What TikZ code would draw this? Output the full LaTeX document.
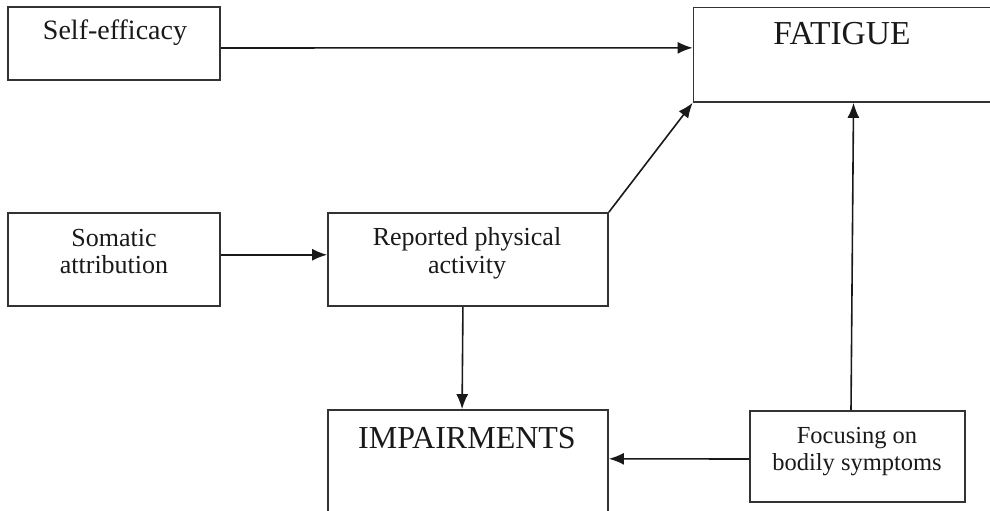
\documentclass[tikz,border=0pt]{standalone}
\usepackage{fontspec}
\setmainfont{Liberation Serif}
\usetikzlibrary{arrows.meta,calc}
\begin{document}
\begin{tikzpicture}[x=1pt,y=-1pt,
  box/.style={draw=black!80,line width=1.7pt,inner sep=0pt},
  lbl/.style={inner sep=0pt,align=center,anchor=base,text=black!90},
  arr/.style={line width=1.6pt,draw=black!90,-{Latex[length=15pt,width=12pt]}}]
\useasboundingbox (0,0) rectangle (990,511);
\clip (0,0) rectangle (990,511);
% boxes
\node[box,minimum width=212pt,minimum height=73pt] (self) at (114,43.5) {};
\node[box,minimum width=330pt,minimum height=94.5pt] (fat) at (858.5,54.75) {};
\node[box,minimum width=212pt,minimum height=93pt] (som) at (114,259.5) {};
\node[box,minimum width=280pt,minimum height=93pt] (rep) at (468,259.5) {};
\node[box,minimum width=280pt,minimum height=130pt] (imp) at (468,475) {};
\node[box,minimum width=215pt,minimum height=91pt] (foc) at (857.5,456.5) {};
% labels
\node[lbl,font=\fontsize{28}{30}\selectfont] (tself) at (115,40) {Self-efficacy};
\node[lbl,font=\fontsize{33.5}{35}\selectfont] (tfat) at (842,45) {FATIGUE};
\node[lbl,font=\fontsize{26}{27}\selectfont] (tsom1) at (114,246) {Somatic};
\node[lbl,font=\fontsize{26}{27}\selectfont] (tsom2) at (114,273) {attribution};
\node[lbl,font=\fontsize{26}{28}\selectfont] (trep1) at (467,245) {Reported physical};
\node[lbl,font=\fontsize{26}{28}\selectfont] (trep2) at (467,273) {activity};
\node[lbl,font=\fontsize{32}{34}\selectfont] (timp) at (467,448) {IMPAIRMENTS};
\node[lbl,font=\fontsize{24.5}{27}\selectfont] (tfoc1) at (857,443) {Focusing on};
\node[lbl,font=\fontsize{24.5}{27}\selectfont] (tfoc2) at (857,470) {bodily symptoms};
% connectors
\draw[arr] ($(self.north east)!0.56!(self.south east)$) -- ($(fat.north west)!0.428!(fat.south west)$);
\draw[arr] ($(som.north east)!0.45!(som.south east)$) -- ($(rep.north west)!0.45!(rep.south west)$);
\draw[arr] (rep.north east) -- (fat.south west);
\draw[arr] ($(rep.south west)!0.482!(rep.south east)$) -- ($(imp.north west)!0.479!(imp.north east)$);
\draw[arr] ($(foc.north west)!0.527!(foc.south west)$) -- ($(imp.north east)!0.377!(imp.south east)$);
\draw[arr] ($(foc.north west)!0.47!(foc.north east)$) -- ($(fat.south west)!0.485!(fat.south east)$);
\end{tikzpicture}
\end{document}
